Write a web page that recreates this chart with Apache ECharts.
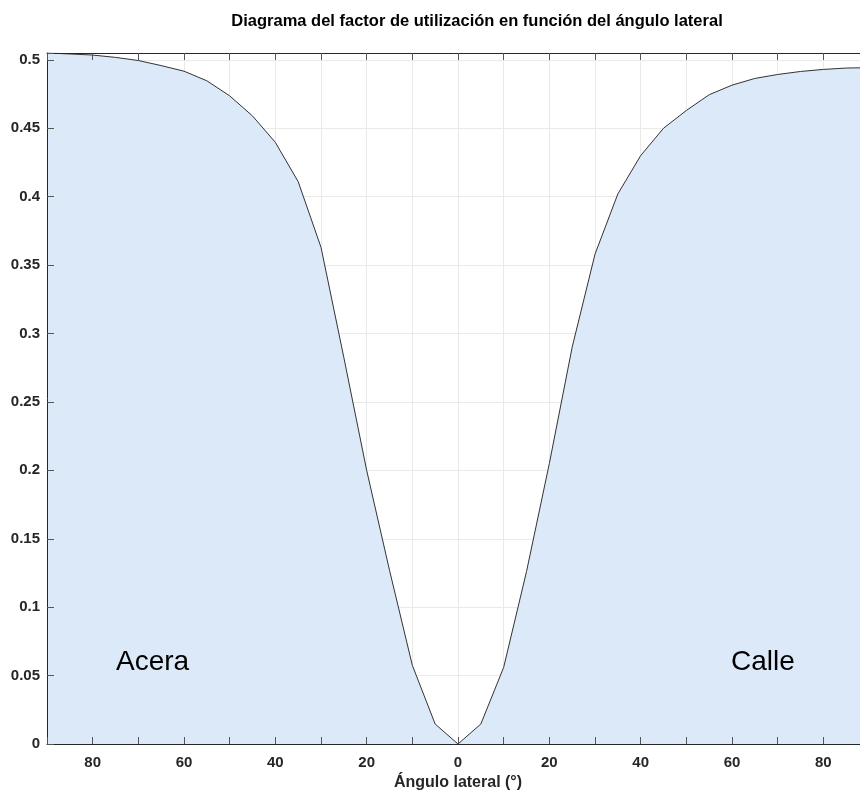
<!DOCTYPE html>
<html>
<head>
<meta charset="utf-8">
<script src="https://cdn.jsdelivr.net/npm/echarts@6/dist/echarts.min.js"></script>
<style>
  html, body { margin: 0; padding: 0; background: #fff; }
  #chart { width: 860px; height: 794px; }
</style>
</head>
<body>
<div id="chart"></div>
<script>
// Lado acera (ángulo negativo en el eje, se muestra en valor absoluto)
let anglesAcera = [90, 85, 80, 75, 70, 65, 60, 55, 50, 45, 40, 35, 30, 25, 20, 15, 10, 5];
let valuesAcera = [0.505, 0.5043, 0.5035, 0.5018, 0.4995, 0.4958, 0.4917, 0.4847, 0.4737, 0.459, 0.4397, 0.411, 0.363, 0.2825, 0.2, 0.127, 0.0575, 0.0146];
// Lado calzada
let anglesCalle = [0, 5, 10, 15, 20, 25, 30, 35, 40, 45, 50, 55, 60, 65, 70, 75, 80, 85, 90];
let valuesCalle = [0, 0.0146, 0.056, 0.126, 0.205, 0.29, 0.358, 0.402, 0.43, 0.45, 0.463, 0.4745, 0.4815, 0.4864, 0.4893, 0.4915, 0.493, 0.494, 0.4943];

let xMin = -90, xMax = 90, xStep = 10;
let yMin = 0, yMax = 0.505, yStep = 0.05;

let data = [];
anglesAcera.forEach((a, i) => data.push([-a, valuesAcera[i]]));
anglesCalle.forEach((a, i) => data.push([a, valuesCalle[i]]));

let axisColor = '#262626';
let gridColor = '#e9e9e9';
let font = 'Liberation Sans, Arial, sans-serif';

let chart = echarts.init(document.getElementById('chart'));
let option = {
  animation: false,
  title: {
    text: 'Diagrama del factor de utilización en función del ángulo lateral',
    left: 472, top: 8,
    textAlign: 'center',
    textStyle: { fontFamily: font, fontSize: 16.5, fontWeight: 'bold', color: '#000' }
  },
  grid: { left: 47, right: -9, top: 53, bottom: 50, outerBoundsMode: 'none' },
  xAxis: [
    {
      type: 'value', min: xMin, max: xMax, interval: xStep, position: 'bottom', z: 5,
      axisLine: { onZero: false, lineStyle: { color: axisColor, width: 1 } },
      axisTick: { inside: true, length: 7, lineStyle: { color: '#555' } },
      axisLabel: {
        margin: 11, color: axisColor, fontFamily: font, fontSize: 15, fontWeight: 'bold',
        formatter: v => (Math.round(v) % 20 === 0 && Math.abs(v) < 90) ? String(Math.abs(v)) : ''
      },
      splitLine: { show: false },
      name: 'Ángulo lateral (°)', nameLocation: 'middle', nameGap: 31,
      nameTextStyle: { fontFamily: font, fontSize: 16, fontWeight: 'bold', color: axisColor }
    },
    {
      type: 'value', min: xMin, max: xMax, interval: xStep, position: 'bottom', z: 0,
      axisLine: { show: false, onZero: false }, axisTick: { show: false }, axisLabel: { show: false },
      splitLine: { show: true, lineStyle: { color: gridColor, width: 1 } }
    },
    {
      type: 'value', min: xMin, max: xMax, interval: xStep, position: 'top', z: 5,
      axisLine: { onZero: false, lineStyle: { color: axisColor, width: 1 } },
      axisTick: { inside: true, length: 7, lineStyle: { color: '#555' } },
      axisLabel: { show: false }, splitLine: { show: false }
    }
  ],
  yAxis: [
    {
      type: 'value', min: yMin, max: yMax, interval: yStep, position: 'left', z: 5,
      axisLine: { show: true, onZero: false, lineStyle: { color: axisColor, width: 1 } },
      axisTick: { show: true, inside: true, length: 7, lineStyle: { color: '#555' } },
      axisLabel: {
        margin: 7, color: axisColor, fontFamily: font, fontSize: 15, fontWeight: 'bold',
        formatter: v => {
          let k = Math.round(v / yStep);
          if (Math.abs(v - k * yStep) > 1e-6) return '';
          return String(+(k * yStep).toFixed(2));
        }
      },
      splitLine: { show: false }
    },
    {
      type: 'value', min: yMin, max: yMax, interval: yStep, position: 'left', z: 0,
      axisLine: { show: false, onZero: false }, axisTick: { show: false }, axisLabel: { show: false },
      splitLine: { show: true, lineStyle: { color: gridColor, width: 1 } }
    }
  ],
  series: [
    {
      type: 'line',
      xAxisIndex: 0, yAxisIndex: 0,
      data: data,
      showSymbol: false,
      lineStyle: { color: '#333', width: 1 },
      areaStyle: { color: '#dce9f8', opacity: 1 },
      z: 2
    }
  ],
  graphic: [
    { type: 'text', left: 116, top: 648, z: 20, style: { text: 'Acera', fontFamily: font, fontSize: 28, fill: '#000' } },
    { type: 'text', left: 731, top: 648, z: 20, style: { text: 'Calle', fontFamily: font, fontSize: 28, fill: '#000' } }
  ]
};
chart.setOption(option);
</script>
</body>
</html>
